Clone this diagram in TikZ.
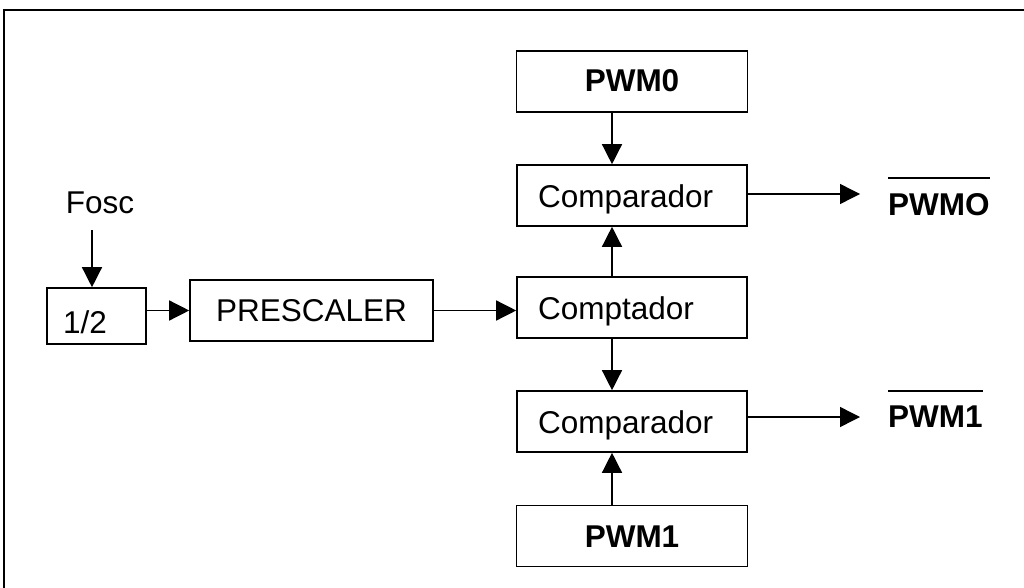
\documentclass[tikz,border=0pt]{standalone}
\usepackage{fontspec}
\setmainfont{Liberation Sans}
\usetikzlibrary{arrows.meta}
\begin{document}
\begin{tikzpicture}[x=1pt,y=-1pt,
  every node/.style={font=\fontsize{31.5}{36}\selectfont},
  blk/.style={draw,line width=1.6pt,inner sep=0pt,minimum height=61pt,text height=22.5pt,text depth=0pt},
  leftblk/.style={blk,text width=#1,align=left},
  arr/.style={line width=1.4pt,-{Triangle[length=20pt,width=20pt]}},
  lbl/.style={inner sep=0pt,font=\fontsize{31.5}{36}\selectfont\bfseries},
  bar/.style={line width=1.6pt}]
\useasboundingbox (0,0) rectangle (1024,588);
% frame
\draw[line width=1.6pt] (4,588) -- (4,10) -- (1024,10);
% blocks
\node[leftblk=67pt,inner xsep=16pt,minimum height=56pt,text height=34.5pt] (half) at (96.5,316) {1/2};
\node[blk,minimum width=243pt] (pre) at (311.5,310.5) {PRESCALER};
\node[blk,minimum width=231pt,font=\fontsize{31.5}{36}\selectfont\bfseries,text height=20pt] (pwm0) at (632,81.5) {PWM0};
\node[leftblk=188pt,inner xsep=21pt,text height=24pt] (cmp0) at (632,195.5) {Comparador};
\node[leftblk=188pt,inner xsep=21pt,text height=24pt] (cnt) at (632,307.5) {Comptador};
\node[leftblk=188pt,inner xsep=21pt,text height=24pt] (cmp1) at (632,421.5) {Comparador};
\node[blk,minimum width=231pt,font=\fontsize{31.5}{36}\selectfont\bfseries] (pwm1) at (632,536) {PWM1};
% labels
\node[inner sep=0pt,anchor=base] (fosc) at (100,213) {Fosc};
\node[lbl,anchor=base west] (out0) at (888,215) {PWMO};
\node[lbl,anchor=base west] (out1) at (888,427) {PWM1};
\draw[bar] ([yshift=37pt]out0.base west) -- ([yshift=37pt]out0.base east);
\draw[bar] ([yshift=36pt]out1.base west) -- ([yshift=36pt]out1.base east);
% coordinates
\coordinate (ftop) at (92,230);
\coordinate (o0) at (860,194);
\coordinate (o1) at (860,417);
% connectors
\draw[arr] (ftop) -- (ftop |- half.north);
\draw[arr] (half.east |- pre.west) -- (pre.west);
\draw[arr] (pre.east) -- (pre.east -| cnt.west);
\draw[arr] ([xshift=-20pt]pwm0.south) -- ([xshift=-20pt]cmp0.north);
\draw[arr] ([xshift=-20pt]cnt.north) -- ([xshift=-20pt]cmp0.south);
\draw[arr] ([xshift=-20pt]cnt.south) -- ([xshift=-20pt]cmp1.north);
\draw[arr] ([xshift=-20pt]pwm1.north) -- ([xshift=-20pt]cmp1.south);
\draw[arr] (cmp0.east |- o0) -- (o0);
\draw[arr] (cmp1.east |- o1) -- (o1);
\end{tikzpicture}
\end{document}
